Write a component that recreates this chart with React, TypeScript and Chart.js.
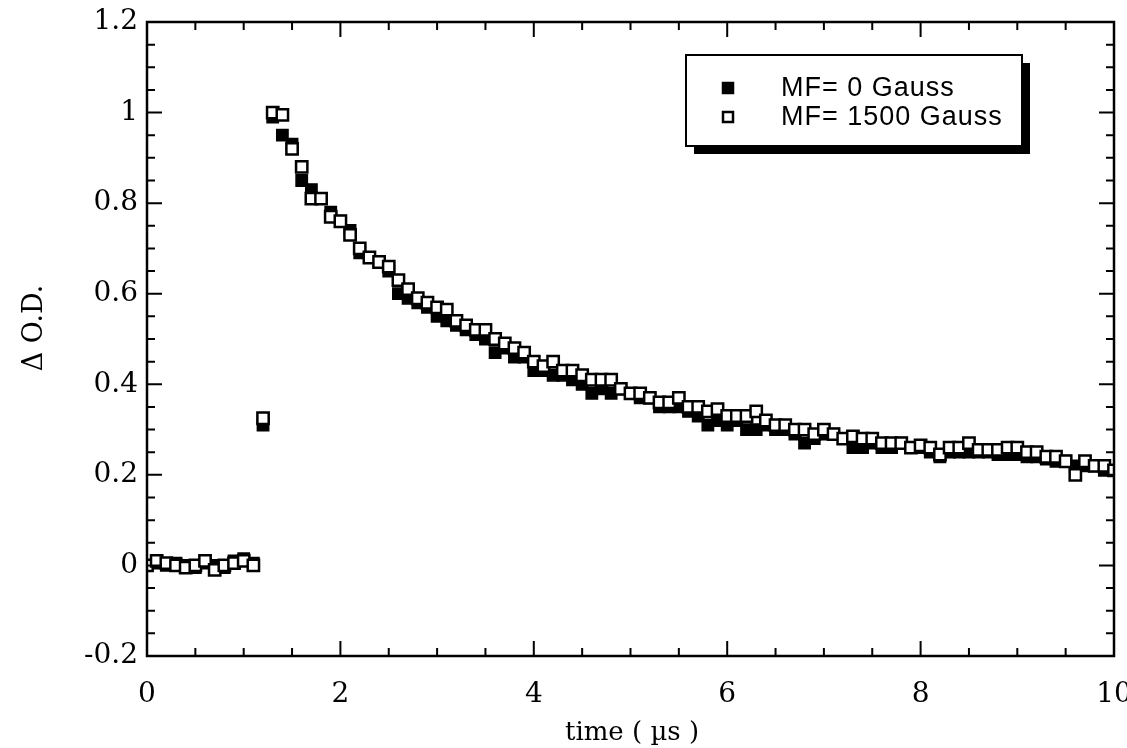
import React, { useEffect, useRef } from "react";
import { Chart, registerables } from "chart.js";

Chart.register(...registerables);

const times = [
  0.0, 0.1, 0.2, 0.3, 0.4, 0.5, 0.6, 0.7, 0.8, 0.9,
  1.0, 1.1, 1.2, 1.3, 1.4, 1.5, 1.6, 1.7, 1.8, 1.9,
  2.0, 2.1, 2.2, 2.3, 2.4, 2.5, 2.6, 2.7, 2.8, 2.9,
  3.0, 3.1, 3.2, 3.3, 3.4, 3.5, 3.6, 3.7, 3.8, 3.9,
  4.0, 4.1, 4.2, 4.3, 4.4, 4.5, 4.6, 4.7, 4.8, 4.9,
  5.0, 5.1, 5.2, 5.3, 5.4, 5.5, 5.6, 5.7, 5.8, 5.9,
  6.0, 6.1, 6.2, 6.3, 6.4, 6.5, 6.6, 6.7, 6.8, 6.9,
  7.0, 7.1, 7.2, 7.3, 7.4, 7.5, 7.6, 7.7, 7.8, 7.9,
  8.0, 8.1, 8.2, 8.3, 8.4, 8.5, 8.6, 8.7, 8.8, 8.9,
  9.0, 9.1, 9.2, 9.3, 9.4, 9.5, 9.6, 9.7, 9.8, 9.9,
  10.0,
];

const mf0 = [
  0.0, 0.005, 0.0, 0.005, 0.0, -0.005, 0.005, 0.0, -0.005, 0.01,
  0.015, 0.005, 0.31, 0.99, 0.95, 0.93, 0.85, 0.83, 0.81, 0.78,
  0.76, 0.74, 0.69, 0.68, 0.67, 0.65, 0.6, 0.59, 0.58, 0.57,
  0.55, 0.54, 0.53, 0.52, 0.51, 0.5, 0.47, 0.48, 0.46, 0.46,
  0.43, 0.43, 0.42, 0.42, 0.41, 0.4, 0.38, 0.39, 0.38, 0.39,
  0.38, 0.37, 0.37, 0.35, 0.35, 0.35, 0.34, 0.33, 0.31, 0.32,
  0.31, 0.32, 0.3, 0.3, 0.31, 0.3, 0.3, 0.29, 0.27, 0.28,
  0.29, 0.29, 0.28, 0.26, 0.26, 0.27, 0.26, 0.26, 0.27, 0.26,
  0.26, 0.25, 0.24, 0.25, 0.25, 0.25, 0.25, 0.25, 0.245, 0.245,
  0.245, 0.24, 0.24, 0.235, 0.23, 0.23, 0.22, 0.22, 0.22, 0.21,
  0.21,
];

const mf1500 = [
  0.0, 0.01, 0.005, 0.0, -0.005, 0.0, 0.01, -0.01, 0.0, 0.005,
  0.01, 0.0, 0.325, 1.0, 0.995, 0.92, 0.88, 0.81, 0.81, 0.77,
  0.76, 0.73, 0.7, 0.68, 0.67, 0.66, 0.63, 0.61, 0.59, 0.58,
  0.57, 0.565, 0.54, 0.53, 0.52, 0.52, 0.5, 0.49, 0.48, 0.47,
  0.45, 0.44, 0.45, 0.43, 0.43, 0.42, 0.41, 0.41, 0.41, 0.39,
  0.38, 0.38, 0.37, 0.36, 0.36, 0.37, 0.35, 0.35, 0.34, 0.345,
  0.33, 0.33, 0.33, 0.34, 0.32, 0.31, 0.31, 0.3, 0.3, 0.29,
  0.3, 0.29, 0.28, 0.285, 0.28, 0.28, 0.27, 0.27, 0.27, 0.26,
  0.265, 0.26, 0.245, 0.26, 0.26, 0.27, 0.255, 0.255, 0.255, 0.26,
  0.26, 0.25, 0.25, 0.24, 0.24, 0.23, 0.2, 0.23, 0.22, 0.22,
  0.21,
];

const seriesLabels = ["MF= 0 Gauss", "MF= 1500 Gauss"];
const xTitle = "time ( \u00b5s )";
const yTitle = "\u0394 O.D.";
const xMajorTicks = [0, 2, 4, 6, 8, 10];
const xMinorTicks = [0.5, 1, 1.5, 2.5, 3, 3.5, 4.5, 5, 5.5, 6.5, 7, 7.5, 8.5, 9, 9.5];
const yMajorTicks = [-0.2, 0, 0.2, 0.4, 0.6, 0.8, 1, 1.2];
const yMinorTicks = [
  -0.15, -0.1, -0.05, 0.05, 0.1, 0.15, 0.25, 0.3, 0.35, 0.45, 0.5, 0.55,
  0.65, 0.7, 0.75, 0.85, 0.9, 0.95, 1.05, 1.1, 1.15,
];

const SERIF = "'DejaVu Serif', 'Liberation Serif', serif";

const frameTicksPlugin = {
  id: "frameTicks",
  afterDatasetsDraw(chart: any) {
    const { ctx, chartArea } = chart;
    const xs = chart.scales.x;
    const ys = chart.scales.y;
    const { left, right, top, bottom } = chartArea;
    ctx.save();
    ctx.strokeStyle = "#000";
    ctx.lineWidth = 2.5;
    ctx.strokeRect(left, top, right - left, bottom - top);
    ctx.lineWidth = 2;
    const drawX = (vals: number[], len: number) => {
      vals.forEach((v) => {
        const px = xs.getPixelForValue(v);
        ctx.beginPath();
        ctx.moveTo(px, bottom);
        ctx.lineTo(px, bottom - len);
        ctx.moveTo(px, top);
        ctx.lineTo(px, top + len);
        ctx.stroke();
      });
    };
    const drawY = (vals: number[], len: number) => {
      vals.forEach((v) => {
        const py = ys.getPixelForValue(v);
        ctx.beginPath();
        ctx.moveTo(left, py);
        ctx.lineTo(left + len, py);
        ctx.moveTo(right, py);
        ctx.lineTo(right - len, py);
        ctx.stroke();
      });
    };
    drawX(xMajorTicks, 15);
    drawX(xMinorTicks, 8);
    drawY(yMajorTicks, 15);
    drawY(yMinorTicks, 8);
    ctx.restore();
  },
};

const titlesPlugin = {
  id: "axisTitles",
  afterDraw(chart: any) {
    const { ctx } = chart;
    ctx.save();
    ctx.fillStyle = "#000";
    ctx.textAlign = "center";
    ctx.textBaseline = "middle";
    ctx.font = `26px ${SERIF}`;
    ctx.fillText(xTitle, 632, 733);
    ctx.translate(35, 328);
    ctx.rotate(-Math.PI / 2);
    ctx.font = `27px ${SERIF}`;
    ctx.fillText(yTitle, 0, 0);
    ctx.restore();
  },
};

const boxLegendPlugin = {
  id: "boxLegend",
  afterDraw(chart: any) {
    const { ctx } = chart;
    const bx = 686;
    const by = 55;
    const bw = 336;
    const bh = 91;
    const sh = 8;
    ctx.save();
    ctx.fillStyle = "#000";
    ctx.fillRect(bx + sh, by + sh, bw, bh);
    ctx.fillStyle = "#fff";
    ctx.fillRect(bx, by, bw, bh);
    ctx.strokeStyle = "#000";
    ctx.lineWidth = 2;
    ctx.strokeRect(bx, by, bw, bh);
    ctx.font = "27px 'Liberation Sans', Arial, sans-serif";
    (ctx as any).letterSpacing = "1px";
    ctx.textBaseline = "middle";
    ctx.textAlign = "left";
    const rows = [88, 117];
    chart.data.datasets.forEach((ds: any, i: number) => {
      const cy = rows[i];
      const mx = 728;
      const s = 10;
      ctx.fillStyle = ds.backgroundColor;
      ctx.fillRect(mx - s / 2, cy - s / 2, s, s);
      ctx.strokeStyle = "#000";
      ctx.lineWidth = 2.5;
      ctx.strokeRect(mx - s / 2, cy - s / 2, s, s);
      ctx.fillStyle = "#000";
      ctx.fillText(seriesLabels[i], 781, cy + 1);
    });
    ctx.restore();
  },
};

const fmtTick = (v: any) => {
  const n = Math.round(Number(v) * 10) / 10;
  return n === 0 ? "0" : String(n);
};

export default function App() {
  const canvasRef = useRef<HTMLCanvasElement | null>(null);

  useEffect(() => {
    const canvas = canvasRef.current;
    if (!canvas) return;
    const toPts = (ys: number[]) => times.map((t, i) => ({ x: t, y: ys[i] }));
    const chart = new Chart(canvas, {
      type: "scatter",
      data: {
        datasets: [
          {
            label: seriesLabels[0],
            data: toPts(mf0),
            pointStyle: "rect",
            pointRadius: 8,
            pointBackgroundColor: "#000",
            pointBorderColor: "#000",
            pointBorderWidth: 1.5,
            backgroundColor: "#000",
            borderColor: "#000",
            order: 2,
          },
          {
            label: seriesLabels[1],
            data: toPts(mf1500),
            pointStyle: "rect",
            pointRadius: 8,
            pointBackgroundColor: "#fff",
            pointBorderColor: "#000",
            pointBorderWidth: 2.5,
            backgroundColor: "#fff",
            borderColor: "#000",
            order: 1,
          },
        ],
      },
      options: {
        animation: false,
        responsive: false,
        maintainAspectRatio: false,
        layout: { padding: { top: 22, right: 13, left: 0, bottom: 0 } },
        plugins: {
          legend: { display: false },
          tooltip: { enabled: false },
        },
        scales: {
          x: {
            type: "linear",
            min: 0,
            max: 10,
            grid: { display: false, drawTicks: false },
            border: { display: false },
            ticks: {
              stepSize: 2,
              padding: 22,
              color: "#000",
              maxRotation: 0,
              callback: fmtTick,
              font: { family: SERIF, size: 28 },
            },
            afterFit(scale: any) {
              scale.height = 92;
              scale.paddingLeft = 0;
              scale.paddingRight = 0;
            },
          },
          y: {
            type: "linear",
            min: -0.2,
            max: 1.2,
            grid: { display: false, drawTicks: false },
            border: { display: false },
            ticks: {
              stepSize: 0.2,
              padding: 9,
              color: "#000",
              callback: fmtTick,
              font: { family: SERIF, size: 28 },
            },
            afterFit(scale: any) {
              scale.width = 147;
              scale.paddingTop = 0;
              scale.paddingBottom = 0;
            },
          },
        },
      },
      plugins: [frameTicksPlugin, boxLegendPlugin, titlesPlugin],
    });
    return () => chart.destroy();
  }, []);

  return (
    <div style={{ position: "absolute", left: 0, top: 0, width: 1127, height: 748, background: "#fff" }}>
      <canvas ref={canvasRef} width={1127} height={748} style={{ width: 1127, height: 748 }} />
    </div>
  );
}
